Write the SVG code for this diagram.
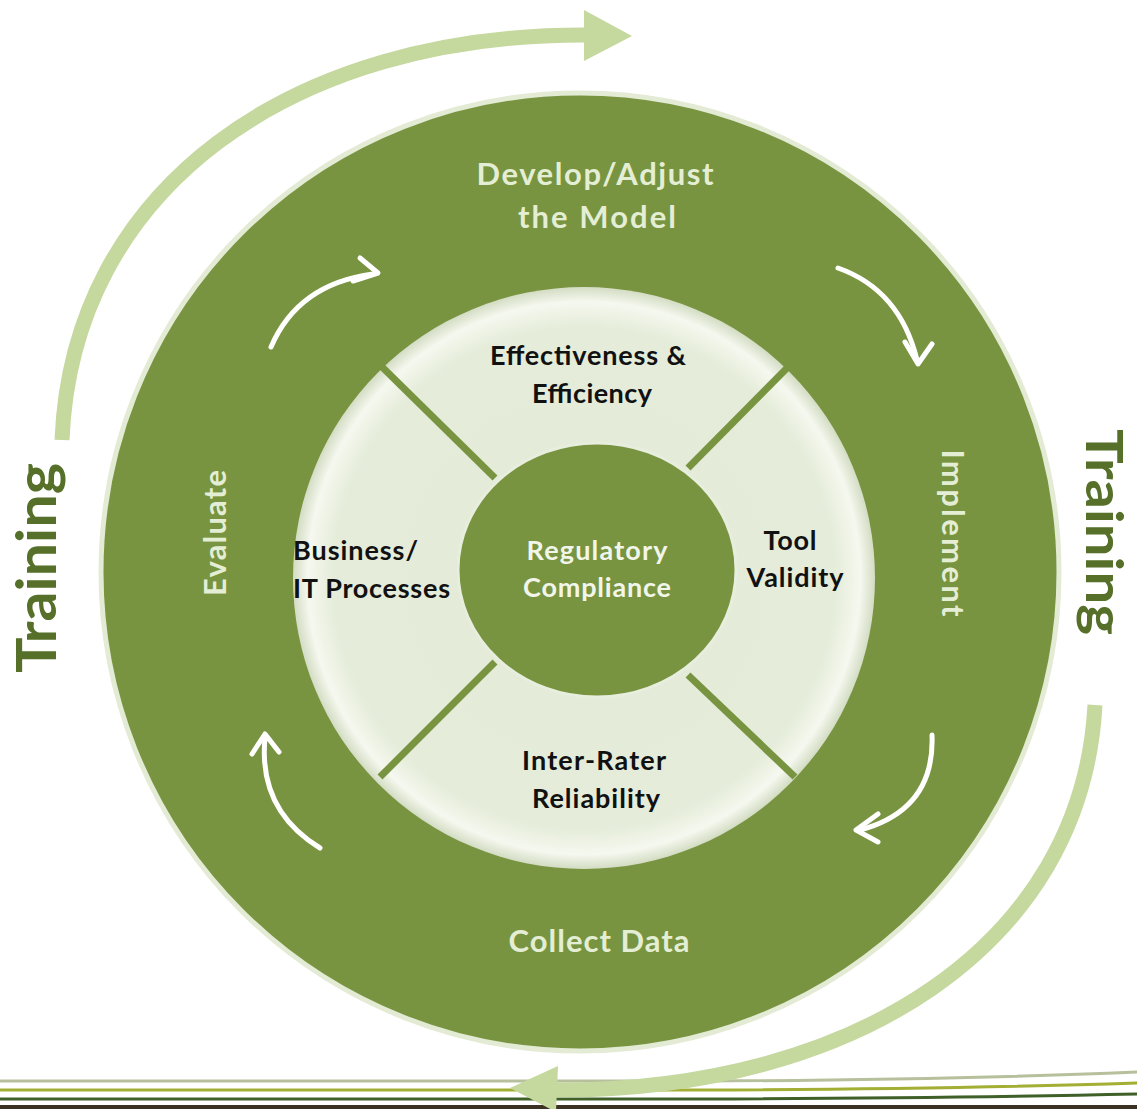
<svg xmlns="http://www.w3.org/2000/svg" width="1137" height="1109" viewBox="0 0 1137 1109">
<defs>
<style>
.lbl{font-family:Lato,"Open Sans","Liberation Sans",sans-serif;font-weight:bold;text-anchor:middle}
.ring{fill:#e4eed4;font-size:31px}
.inner{fill:#111;font-size:27px}
.core{fill:#f2f6ea;font-size:27px}
.train{fill:#56702a;font-size:55px}
.big{fill:none;stroke:#c5d89e;stroke-width:15}
.cyc{fill:none;stroke:#ffffff;stroke-width:5;stroke-linecap:round;stroke-linejoin:round}
.div{stroke:#789440;stroke-width:7}
</style>
<radialGradient id="disk" cx="0.5" cy="0.5" r="0.5">
<stop offset="0" stop-color="#e3ead7"/>
<stop offset="0.86" stop-color="#e5ecd9"/>
<stop offset="0.95" stop-color="#f5f8ef"/>
<stop offset="1" stop-color="#d3dcc3"/>
</radialGradient>
</defs>
<rect width="1137" height="1109" fill="#ffffff"/>

<g id="bottom-lines" fill="none" stroke-width="3">
<path d="M0 1081 L700 1081 Q950 1080 1137 1072" stroke="#b7c09d"/>
<path d="M0 1090 L700 1090 Q950 1089 1137 1083" stroke="#a3af34"/>
<path d="M0 1099 L700 1099 Q950 1098 1137 1094" stroke="#3f6129"/>
<path d="M0 1107 L1137 1107" stroke="#3a3222" stroke-width="4"/>
</g>

<g id="outer-ring">
<circle cx="580" cy="572" r="479" fill="#789440" stroke="#e3ebd5" stroke-width="5"/>
</g>

<g id="inner-disk">
<circle cx="584" cy="578" r="291" fill="url(#disk)"/>
<line class="div" x1="377" y1="362" x2="495" y2="478"/>
<line class="div" x1="793" y1="362" x2="688" y2="468"/>
<line class="div" x1="380" y1="777" x2="495" y2="662"/>
<line class="div" x1="795" y1="777" x2="688" y2="675"/>
</g>

<g id="center">
<ellipse cx="597" cy="570" rx="139" ry="127" fill="#789440" stroke="#e8eedd" stroke-width="3"/>
<text class="lbl core" x="597" y="560" textLength="141">Regulatory</text>
<text class="lbl core" x="597" y="597" textLength="148">Compliance</text>
</g>

<g id="develop">
<text class="lbl ring" x="595" y="185" textLength="237">Develop/Adjust</text>
<text class="lbl ring" x="597" y="228" textLength="158">the Model</text>
</g>
<g id="implement">
<text class="lbl ring" transform="translate(942,533) rotate(90)" textLength="167">Implement</text>
</g>
<g id="collect">
<text class="lbl ring" x="599" y="952" textLength="181">Collect Data</text>
</g>
<g id="evaluate">
<text class="lbl ring" transform="translate(226,533) rotate(-90)" textLength="126">Evaluate</text>
</g>

<g id="effectiveness">
<text class="lbl inner" x="588" y="365" textLength="196">Effectiveness &amp;</text>
<text class="lbl inner" x="592" y="403" textLength="120">Efficiency</text>
</g>
<g id="tool">
<text class="lbl inner" x="790" y="550" textLength="53">Tool</text>
<text class="lbl inner" x="795" y="587" textLength="97">Validity</text>
</g>
<g id="interrater">
<text class="lbl inner" x="594" y="770" textLength="144">Inter-Rater</text>
<text class="lbl inner" x="596" y="808" textLength="128">Reliability</text>
</g>
<g id="business">
<text class="lbl inner" x="293" y="560" style="text-anchor:start" textLength="125">Business/</text>
<text class="lbl inner" x="293" y="598" style="text-anchor:start" textLength="157">IT Processes</text>
</g>

<g id="training-left">
<text class="lbl train" transform="translate(56,568) rotate(-90)" textLength="210" lengthAdjust="spacingAndGlyphs">Training</text>
</g>
<g id="training-right">
<text class="lbl train" style="font-size:52px" transform="translate(1086,532) rotate(90)" textLength="206" lengthAdjust="spacingAndGlyphs">Training</text>
</g>

<g id="connectors">
<path class="big" d="M62 440 C72 190 290 32 592 35"/>
<polygon points="584,10 632,36 584,61" fill="#c5d89e"/>
<path class="big" d="M1095 705 C1082 945 855 1092 552 1090"/>
<polygon points="558,1066 510,1088 556,1112" fill="#c5d89e"/>

<path class="cyc" d="M271 347 Q298 284 373 274"/>
<polyline class="cyc" points="360,258 378,273 353,281"/>
<path class="cyc" d="M838 268 Q900 290 917 360"/>
<polyline class="cyc" points="905,342 918,364 932,344"/>
<path class="cyc" d="M932 735 Q935 810 860 830"/>
<polyline class="cyc" points="878,814 856,830 878,842"/>
<path class="cyc" d="M320 848 Q258 810 265 738"/>
<polyline class="cyc" points="252,754 265,734 279,752"/>
</g>
</svg>
